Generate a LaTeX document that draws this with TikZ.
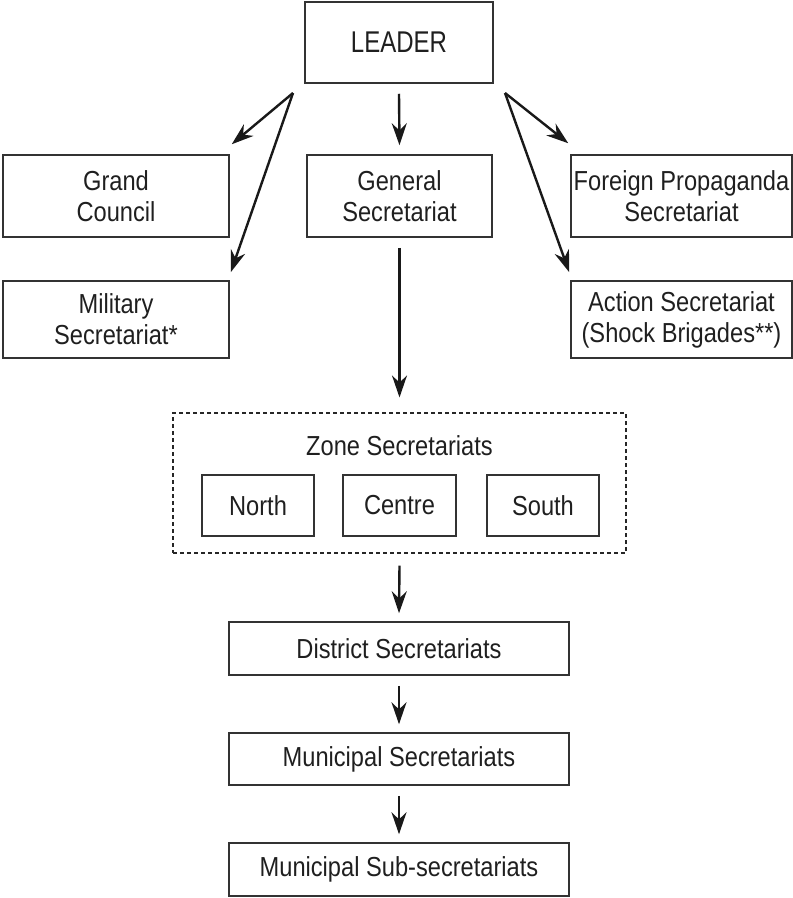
\documentclass[tikz,border=0pt]{standalone}
\usepackage{fontspec}
\setmainfont{Liberation Sans}[FakeStretch=0.86]
\newfontfamily\leaderfont{Liberation Sans}[FakeStretch=0.8]
\usetikzlibrary{arrows.meta}
\begin{document}
\begin{tikzpicture}[x=1pt,y=-1pt,
  box/.style={draw=black!80,line width=1.5pt,rectangle,inner sep=0pt,align=center,
    font=\fontsize{27.5}{31}\selectfont,text=black!88},
  zonebox/.style={draw=black!85,line width=1.1pt,dash pattern=on 4pt off 3pt,rectangle,inner sep=0pt},
  arr/.style={draw=black!90,line width=2.4pt,-{Stealth[length=22pt,width=15pt]}},
  lbl/.style={font=\fontsize{27.5}{31}\selectfont,text=black!88,inner sep=0pt}
]
\useasboundingbox (0,0) rectangle (793,898);
% top level
\node[box,minimum width=188pt,minimum height=81pt,font=\leaderfont\fontsize{30}{31}\selectfont] (leader) at (399,42.5) {LEADER};
\node[box,minimum width=226pt,minimum height=82pt] (gc) at (116,196) {Grand\\Council};
\node[box,minimum width=185pt,minimum height=82pt] (gs) at (399.5,196) {General\\Secretariat};
\node[box,minimum width=221pt,minimum height=82pt] (fp) at (681.5,196) {Foreign Propaganda\\Secretariat};
\node[box,minimum width=226pt,minimum height=77pt] (ms) at (116,319.5) {Military\\Secretariat*};
\node[box,minimum width=221pt,minimum height=77pt] (as) at (681.5,319.5) {Action Secretariat\\(Shock Brigades**)};
% zone
\node[zonebox,minimum width=453pt,minimum height=140pt] (zone) at (399.5,483) {};
\node[lbl] (zt) at (399.5,446) {Zone Secretariats};
\node[box,minimum width=112pt,minimum height=61pt] (north) at (258,505.5) {North};
\node[box,minimum width=113pt,minimum height=61pt] (centre) at (399.5,505.5) {Centre};
\node[box,minimum width=112pt,minimum height=61pt] (south) at (543,505.5) {South};
% lower chain
\node[box,minimum width=340pt,minimum height=53pt] (district) at (399,648.5) {District Secretariats};
\node[box,minimum width=340pt,minimum height=52pt] (muni) at (399,759) {Municipal Secretariats};
\node[box,minimum width=340pt,minimum height=53pt] (sub) at (399,869.5) {Municipal Sub-secretariats};
% origins of diagonal arrows
\coordinate (L) at (293,93);
\coordinate (R) at (505,93);
% arrows
\draw[arr] ([yshift=-10pt]leader.south) -- ([yshift=9pt]gs.north);
\draw[arr] (L) -- ([shift={(2pt,10pt)}]gc.north east);
\draw[arr] (L) -- ([shift={(1pt,8pt)}]ms.north east);
\draw[arr] (R) -- ([shift={(-2pt,11pt)}]fp.north west);
\draw[arr] (R) -- ([shift={(-1pt,8pt)}]as.north west);
\draw[arr] ([yshift=-10pt]gs.south) -- ([yshift=15pt]zone.north);
\draw[arr] ([yshift=-12pt]zone.south) -- ([yshift=8pt]district.north);
\draw[arr] ([yshift=-10pt]district.south) -- ([yshift=8pt]muni.north);
\draw[arr] ([yshift=-10pt]muni.south) -- ([yshift=8pt]sub.north);
\end{tikzpicture}
\end{document}
